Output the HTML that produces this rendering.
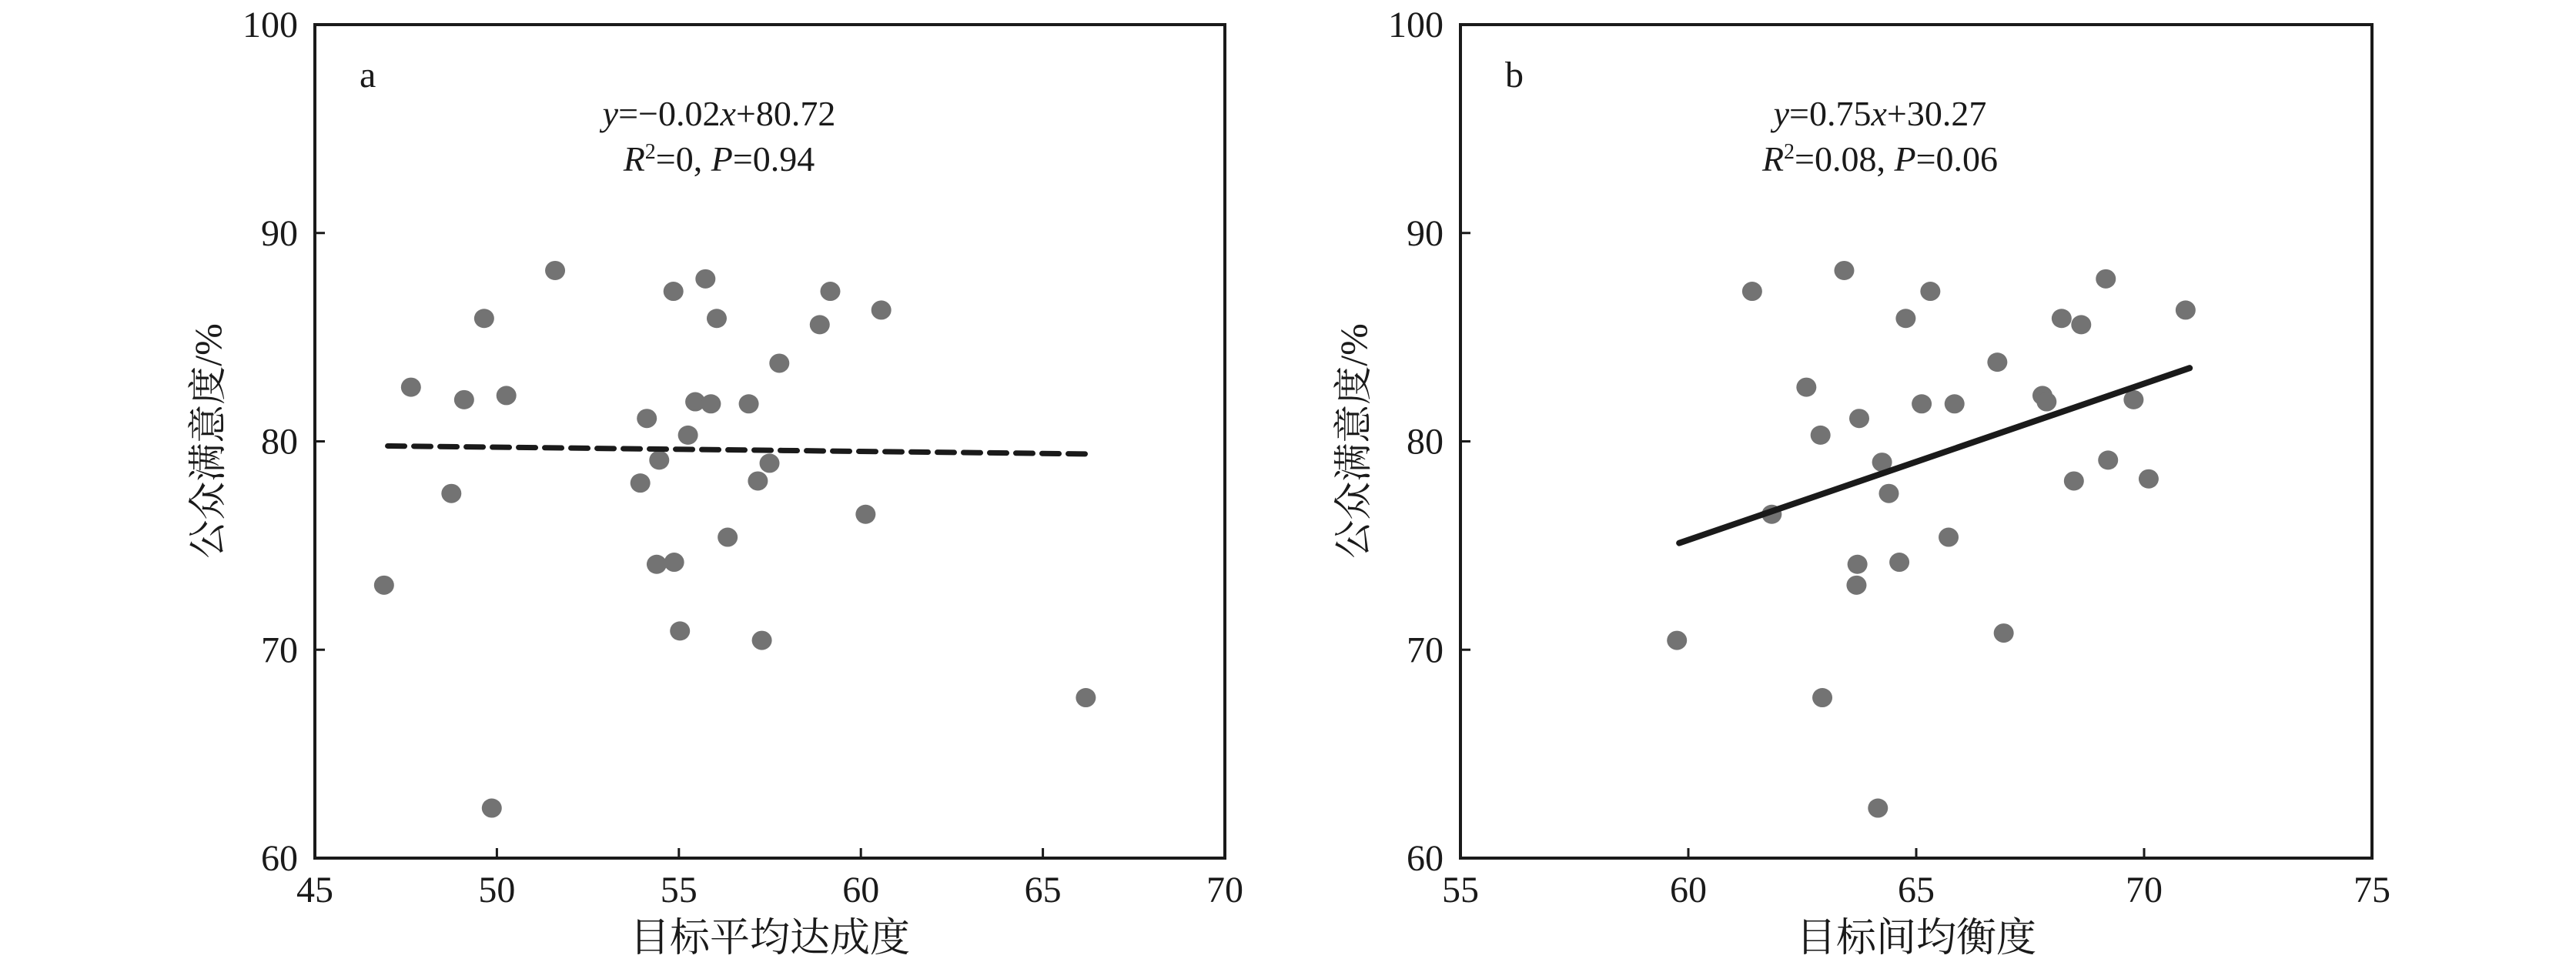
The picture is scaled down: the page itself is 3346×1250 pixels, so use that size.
<!DOCTYPE html>
<html><head><meta charset="utf-8"><style>
html,body{margin:0;padding:0;background:#fff;}
svg{display:block;}
text{font-family:"Liberation Serif","Noto Serif CJK SC",serif;fill:#1a1a1a;}
</style></head><body>
<svg id="chart" width="3346" height="1250" viewBox="0 0 3346 1250" xmlns="http://www.w3.org/2000/svg"></svg>
<script>
// Panel a data
const aX = [46.9,47.64,48.75,49.1,49.65,49.86,50.26,51.6,53.94,54.12,54.46,54.39,54.85,54.87,55.03,55.25,55.45,55.73,55.88,56.04,56.34,56.92,57.17,57.28,57.49,57.76,58.87,59.16,60.13,60.56,66.18];
const aY = [73.1,82.6,77.5,82.0,85.9,62.4,82.2,88.2,78.0,81.1,79.1,74.1,87.2,74.2,70.9,80.3,81.9,87.8,81.8,85.9,75.4,81.8,78.1,70.45,78.95,83.75,85.6,87.2,76.5,86.3,67.7];
const aFitX = [47.0,66.2];
const aSlope = -0.02, aIntercept = 80.72;
const aXTicks = [45,50,55,60,65,70];
// Panel b data
const bX = [59.75,61.4,61.83,62.59,62.9,62.94,63.42,63.69,63.71,63.75,64.16,64.25,64.4,64.63,64.77,65.12,65.31,65.71,65.84,66.78,66.92,67.77,67.86,68.19,68.46,68.62,69.16,69.21,69.77,70.1,70.91];
const bY = [70.45,87.2,76.5,82.6,80.3,67.7,88.2,73.1,74.1,81.1,62.4,79.0,77.5,74.2,85.9,81.8,87.2,75.4,81.8,83.8,70.8,82.2,81.9,85.9,78.1,85.6,87.8,79.1,82.0,78.2,86.3];
const bFitX = [59.8,71.0];
const bSlope = 0.75, bIntercept = 30.27;
const bXTicks = [55,60,65,70,75];
const yTicks = [60,70,80,90,100];

const NS = "http://www.w3.org/2000/svg";
const svg = document.getElementById('chart');
function mk(tag, attrs, parent){
  const e = document.createElementNS(NS, tag);
  for (const k in attrs) e.setAttribute(k, attrs[k]);
  (parent||svg).appendChild(e);
  return e;
}

function panel(cfg){
  const g = mk('g', {});
  
  
  const L=cfg.left, R=cfg.right, T=32, B=1115;
  const xmin=cfg.xTicks[0], xmax=cfg.xTicks[cfg.xTicks.length-1];
  const sx = v => L + (v - xmin) / (xmax - xmin) * (R - L);
  const sy = v => B - (v - 60) / 40 * (B - T);
  // points
  for (let i=0;i<cfg.xs.length;i++){
    const c = mk('ellipse', {cx:sx(cfg.xs[i]), cy:sy(cfg.ys[i]), rx:13, ry:12.5, fill:'#737373'}, g);
    
    
  }
  // fit line
  const x1=cfg.fitX[0], x2=cfg.fitX[1];
  const ln = mk('line', {x1:sx(x1), y1:sy(cfg.slope*x1+cfg.icpt), x2:sx(x2), y2:sy(cfg.slope*x2+cfg.icpt), stroke:'#1a1a1a', 'stroke-width':cfg.dashed?7:8, 'stroke-linecap':'round'}, g);
  if (cfg.dashed) ln.setAttribute('stroke-dasharray','22 12');
  
  
  // frame
  const fr = mk('rect', {x:L, y:T, width:R-L, height:B-T, fill:'none', stroke:'#1a1a1a', 'stroke-width':4}, g);
  
  
  // x ticks
  for (const t of cfg.xTicks){
    const x = sx(t);
    mk('line', {x1:x, y1:B, x2:x, y2:B-13, stroke:'#1a1a1a', 'stroke-width':3}, g);
    const tx = mk('text', {x:x, y:1172, 'text-anchor':'middle', 'font-size':48}, g);
    tx.textContent = t;
    
    
  }
  // y ticks
  for (const t of yTicks){
    const y = sy(t);
    mk('line', {x1:L, y1:y, x2:L+13, y2:y, stroke:'#1a1a1a', 'stroke-width':3}, g);
    const ty = mk('text', {x:L-22, y:y+16, 'text-anchor':'end', 'font-size':48}, g);
    ty.textContent = t;
    
    
  }
  // y title
  const yt = mk('text', {x:0, y:0, 'text-anchor':'middle', 'font-size':50, transform:`translate(${L-122},573) rotate(-90)`}, g);
  yt.textContent = '公众满意度/%';
  
  
  // x title
  const xt = mk('text', {x:(L+R)/2, y:1236, 'text-anchor':'middle', 'font-size':52}, g);
  xt.textContent = cfg.xTitle;
  
  
  // panel letter
  const pl = mk('text', {x:L+58, y:113, 'font-size':48}, g);
  pl.textContent = cfg.letter;
  
  
  // equation
  const cx = L + cfg.eqOff;
  const e1 = mk('text', {x:cx, y:163, 'text-anchor':'middle', 'font-size':46}, g);
  e1.innerHTML = cfg.eq1;
  
  
  const e2 = mk('text', {x:cx, y:222, 'text-anchor':'middle', 'font-size':46}, g);
  e2.innerHTML = cfg.eq2;
  
  
}

panel({name:'panel-a', left:409, right:1591, xTicks:aXTicks, xs:aX, ys:aY, fitX:aFitX, slope:aSlope, icpt:aIntercept, dashed:true,
  xTitle:'目标平均达成度', letter:'a', eqOff:525,
  eq1:'<tspan font-style="italic">y</tspan>=−0.02<tspan font-style="italic">x</tspan>+80.72',
  eq2:'<tspan font-style="italic">R</tspan><tspan font-size="28" dy="-16">2</tspan><tspan dy="16">=0, </tspan><tspan font-style="italic">P</tspan>=0.94'});
panel({name:'panel-b', left:1897, right:3081, xTicks:bXTicks, xs:bX, ys:bY, fitX:bFitX, slope:bSlope, icpt:bIntercept, dashed:false,
  xTitle:'目标间均衡度', letter:'b', eqOff:545,
  eq1:'<tspan font-style="italic">y</tspan>=0.75<tspan font-style="italic">x</tspan>+30.27',
  eq2:'<tspan font-style="italic">R</tspan><tspan font-size="28" dy="-16">2</tspan><tspan dy="16">=0.08, </tspan><tspan font-style="italic">P</tspan>=0.06'});
</script>
</body></html>
